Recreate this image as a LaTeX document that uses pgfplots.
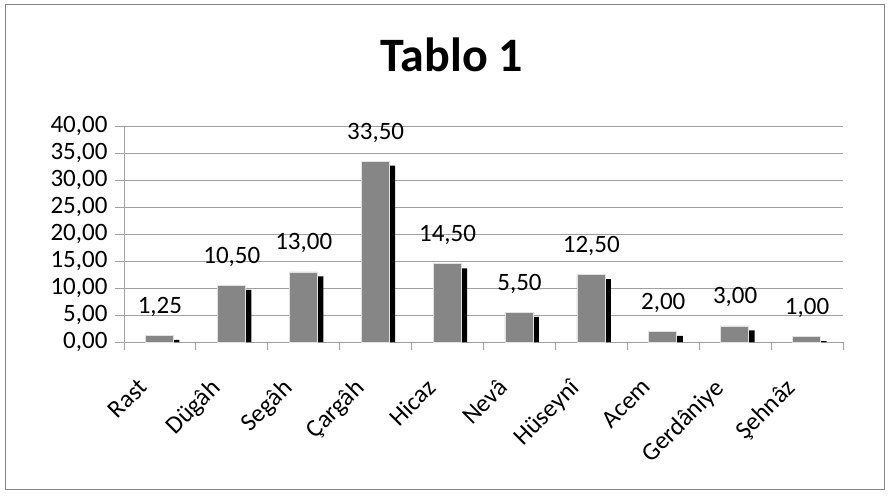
\documentclass[border=0pt]{standalone}
\usepackage{pgfplots}
\pgfplotsset{compat=1.18}
\usepackage{fontspec}
\setmainfont{Carlito}
\definecolor{bargray}{RGB}{134,134,134}
\definecolor{gridgray}{RGB}{160,160,160}
\definecolor{framegray}{RGB}{134,134,134}
\begin{document}
\begin{tikzpicture}
\useasboundingbox (-124pt,-153pt) rectangle (767pt,342pt);
\draw[framegray, line width=1pt] (-118pt,-147pt) rectangle (760pt,337pt);
\node[anchor=base, font=\fontsize{48}{56}\selectfont\bfseries] at (328pt,270pt) {Tablo 1};
\begin{axis}[
  scale only axis, width=719pt, height=216pt,
  xmin=-0.5, xmax=9.5, ymin=0, ymax=40,
  clip=false,
  ytick={0,5,...,40},
  xtick={0,...,9},
  xticklabels={Rast,Dügâh,Segâh,Çargâh,Hicaz,Nevâ,Hüseynî,Acem,Gerdâniye,Şehnâz},
  minor xtick={-0.5,0.5,...,9.5},
  axis x line*=bottom, axis y line*=left,
  axis line style={gridgray,-},
  ymajorgrids, grid style={gridgray, line width=0.8pt},
  tick align=outside,
  major tick length=9pt, minor tick length=8pt,
  major x tick style={draw=none},
  minor x tick style={gridgray, line width=0.8pt},
  major y tick style={gridgray, line width=0.8pt},
  /pgf/number format/.cd, fixed, fixed zerofill, precision=2, use comma, assume math mode=true,
  /pgfplots/.cd,
  tick label style={font=\fontsize{25}{30}\selectfont, black},
  yticklabel style={xshift=-4pt},
  xticklabel style={rotate=45, anchor=north east, xshift=-31pt, yshift=1pt},
]
\addplot[ybar, bar width=28pt, bar shift=5.5pt, fill=black, draw=none]
  coordinates {(0,0.40) (1,9.65) (2,12.15) (3,32.65) (4,13.65) (5,4.65) (6,11.65) (7,1.15) (8,2.15) (9,0.15)};
\addplot[ybar, bar width=28pt, bar shift=-0.5pt, fill=bargray, draw=white!75!bargray, line width=0.6pt,
  nodes near coords,
  nodes near coords style={anchor=base, yshift=22pt, font=\fontsize{25}{30}\selectfont, black}]
  coordinates {(0,1.25) (1,10.50) (2,13.00) (3,33.50) (4,14.50) (5,5.50) (6,12.50) (7,2.00) (8,3.00) (9,1.00)};
\end{axis}
\end{tikzpicture}
\end{document}
